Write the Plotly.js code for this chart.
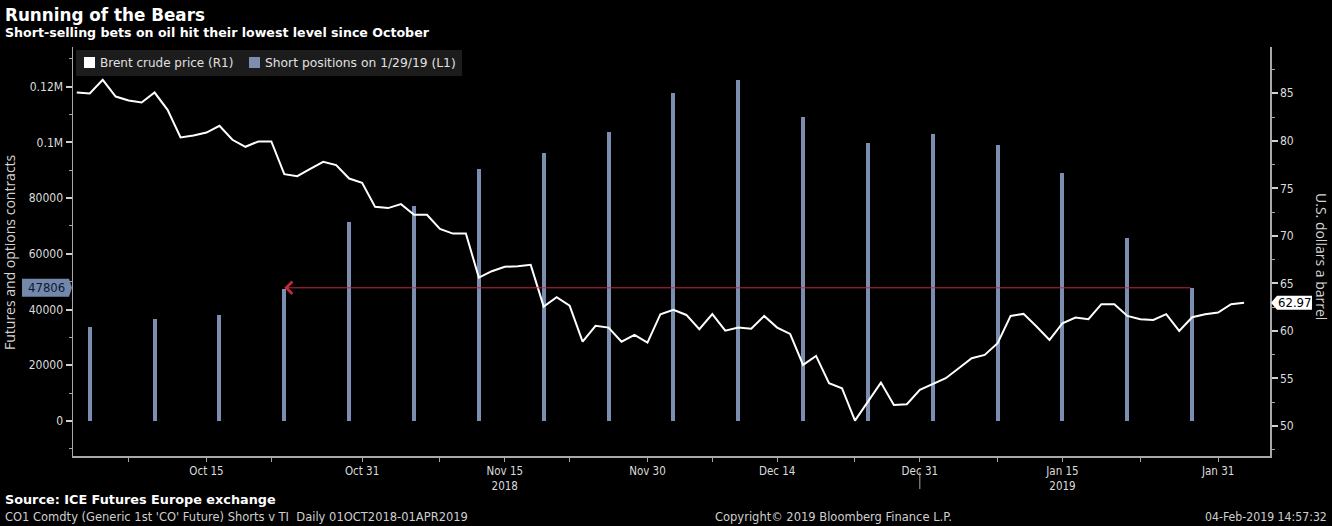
<!DOCTYPE html>
<html>
<head>
<meta charset="utf-8">
<script src="https://cdn.plot.ly/plotly-3.0.1.min.js"></script>
<style>
html,body{margin:0;padding:0;background:#000;}
#chart{width:1332px;height:526px;}
</style>
</head>
<body>
<div id="chart"></div>
<script>
// ---------- DATA ----------
const priceDates = [
 '2018-10-01','2018-10-02','2018-10-03','2018-10-04','2018-10-05','2018-10-08','2018-10-09','2018-10-10','2018-10-11','2018-10-12',
 '2018-10-15','2018-10-16','2018-10-17','2018-10-18','2018-10-19','2018-10-22','2018-10-23','2018-10-24','2018-10-25','2018-10-26',
 '2018-10-29','2018-10-30','2018-10-31',
 '2018-11-01','2018-11-02','2018-11-05','2018-11-06','2018-11-07','2018-11-08','2018-11-09','2018-11-12','2018-11-13','2018-11-14',
 '2018-11-15','2018-11-16','2018-11-19','2018-11-20','2018-11-21','2018-11-22','2018-11-23','2018-11-26','2018-11-27','2018-11-28',
 '2018-11-29','2018-11-30',
 '2018-12-03','2018-12-04','2018-12-05','2018-12-06','2018-12-07','2018-12-10','2018-12-11','2018-12-12','2018-12-13','2018-12-14',
 '2018-12-17','2018-12-18','2018-12-19','2018-12-20','2018-12-21','2018-12-24','2018-12-26','2018-12-27','2018-12-28','2018-12-31',
 '2019-01-02','2019-01-03','2019-01-04','2019-01-07','2019-01-08','2019-01-09','2019-01-10','2019-01-11','2019-01-14','2019-01-15',
 '2019-01-16','2019-01-17','2019-01-18','2019-01-21','2019-01-22','2019-01-23','2019-01-24','2019-01-25','2019-01-28','2019-01-29',
 '2019-01-30','2019-01-31',
 '2019-02-01','2019-02-04'
];
const brentPrice = [
 85.08,84.98,86.42,84.66,84.24,84.03,85.08,83.26,80.35,80.56,
 80.87,81.58,80.11,79.37,79.93,79.93,76.49,76.28,77.05,77.79,
 77.44,76.03,75.58,
 73.05,72.92,73.34,72.21,72.21,70.74,70.24,70.24,65.61,66.28,
 66.74,66.81,66.95,62.56,63.55,62.67,58.87,60.53,60.35,58.87,
 59.58,58.77,
 61.76,62.21,61.68,60.18,61.76,60.03,60.35,60.24,61.58,60.35,
 59.68,56.42,57.37,54.49,53.97,50.56,54.56,52.21,52.28,53.79,
 55.02,56.07,57.12,57.47,58.71,61.58,61.79,60.46,59.05,60.81,
 61.40,61.23,62.81,62.81,61.58,61.23,61.16,61.76,60.00,61.44,
 61.76,61.93,
 62.81,62.97
];
const shortDates = [
 '2018-10-02','2018-10-09','2018-10-16','2018-10-23','2018-10-30',
 '2018-11-06','2018-11-13','2018-11-20','2018-11-27',
 '2018-12-04','2018-12-11','2018-12-18','2018-12-25',
 '2019-01-01','2019-01-08','2019-01-15','2019-01-22','2019-01-29'
];
const shortPositions = [
 33850,36610,37940,47400,71540,
 77280,90450,96200,103730,
 117730,122290,109010,99780,
 102910,99070,89020,65580,47806
];
const xTickVals = ['2018-10-05','2018-10-15','2018-10-22','2018-10-31','2018-11-08','2018-11-15','2018-11-22','2018-11-30',
                   '2018-12-07','2018-12-14','2018-12-24','2018-12-31','2019-01-08','2019-01-15','2019-01-23','2019-01-31'];
const xTickText = ['','Oct 15','','Oct 31','','Nov 15<br>2018','','Nov 30',
                   '','Dec 14','','Dec 31','','Jan 15<br>2019','','Jan 31'];
const yearBoundary = ['2018-12-31'];
const leftTickVals = [0,20000,40000,60000,80000,100000,120000];
const leftTickText = ['0','20000','40000','60000','80000','0.1M','0.12M'];
const rightTickVals = [50,55,60,65,70,75,80,85];
const rightTickText = ['50','55','60','65','70','75','80','85'];

// ---------- LAYOUT HELPERS ----------
const W = 1332, H = 526, ML = 73, MR = 62, MT = 47, MB = 70;
const PW = W - ML - MR, PH = H - MT - MB;
const px = x => (x - ML) / PW;
const py = y => (H - MB - y) / PH;

const COND = '"DejaVu Sans Condensed", "DejaVu Sans", sans-serif';
const SANS = '"DejaVu Sans", Verdana, sans-serif';
const BOLD = '"DejaVu Sans", Verdana, sans-serif';
const BAR_COLOR = '#7b8eb0';

const lastShort = shortPositions[shortPositions.length - 1];
const lastShortDate = shortDates[shortDates.length - 1];
let prevIdx = 0;
for (let i = shortPositions.length - 2; i >= 0; i--) { if (shortPositions[i] <= lastShort) { prevIdx = i; break; } }
const lastPrice = brentPrice[brentPrice.length - 1];

const traces = [
  {
    type: 'bar', x: shortDates, y: shortPositions, yaxis: 'y', name: 'Short positions on 1/29/19 (L1)',
    width: 0.31 * 86400000, marker: {color: BAR_COLOR, line: {width: 0}}, hoverinfo: 'skip'
  },
  {
    type: 'scatter', mode: 'lines', x: priceDates, y: brentPrice, yaxis: 'y2', name: 'Brent crude price (R1)',
    line: {color: '#ffffff', width: 2}, hoverinfo: 'skip'
  }
];

const axisGrey = '#a8a8a8';
const layout = {
  width: W, height: H,
  margin: {l: ML, r: MR, t: MT, b: MB, pad: 0},
  paper_bgcolor: '#000', plot_bgcolor: '#000',
  showlegend: false, hovermode: false, bargap: 0,
  xaxis: {
    type: 'date', range: ['2018-09-28 17:00', '2019-02-06 00:00'],
    rangebreaks: [{bounds: ['sat', 'mon']}],
    tickmode: 'array', tickvals: xTickVals, ticktext: xTickText,
    ticks: 'outside', ticklen: 4, tickwidth: 1, tickcolor: axisGrey,
    showline: true, linecolor: axisGrey, linewidth: 1.5,
    showgrid: false, zeroline: false,
    tickfont: {family: COND, size: 11.5, color: '#dcdcdc'}
  },
  yaxis: {
    range: [-12563, 134240], tickmode: 'array', tickvals: leftTickVals, ticktext: leftTickText,
    ticks: 'outside', ticklen: 6, tickwidth: 2, tickcolor: '#d0d0d0',
    minor: {tickmode: 'linear', tick0: 0, dtick: 10000, ticks: 'outside', ticklen: 3, tickwidth: 1, tickcolor: axisGrey},
    showline: true, linecolor: axisGrey, linewidth: 1.5,
    showgrid: false, zeroline: false,
    tickfont: {family: COND, size: 12, color: '#dcdcdc'}
  },
  yaxis2: {
    overlaying: 'y', side: 'right', range: [46.84, 89.87],
    tickmode: 'array', tickvals: rightTickVals, ticktext: rightTickText,
    ticks: 'outside', ticklen: 6, tickwidth: 2, tickcolor: '#d0d0d0',
    minor: {tickmode: 'linear', tick0: 50, dtick: 2.5, ticks: 'outside', ticklen: 3, tickwidth: 1, tickcolor: axisGrey},
    showline: true, linecolor: axisGrey, linewidth: 1.5,
    showgrid: false, zeroline: false,
    tickfont: {family: COND, size: 12, color: '#dcdcdc'}
  },
  shapes: [
    // legend background
    {type: 'rect', xref: 'paper', yref: 'paper', x0: px(76), x1: px(462), y0: py(50), y1: py(76),
     fillcolor: '#1c1c1c', line: {width: 0}, layer: 'below'},
    {type: 'rect', xref: 'paper', yref: 'paper', x0: px(84), x1: px(95), y0: py(57), y1: py(68),
     fillcolor: '#ffffff', line: {width: 0}},
    {type: 'rect', xref: 'paper', yref: 'paper', x0: px(249), x1: px(260), y0: py(57), y1: py(68),
     fillcolor: BAR_COLOR, line: {width: 0}},
    // year boundary mark
    {type: 'line', xref: 'x', yref: 'paper', x0: yearBoundary[0], x1: yearBoundary[0], y0: py(472), y1: py(489),
     line: {color: axisGrey, width: 1}},
    // left value tag
    {type: 'path', xref: 'paper', yref: 'y', xsizemode: 'pixel', ysizemode: 'pixel', xanchor: 0, yanchor: lastShort,
     path: 'M -1,0 L -4,9 L -51,9 L -51,-9 L -4,-9 Z', fillcolor: '#7388ab', line: {width: 0}},
    // right value tag
    {type: 'path', xref: 'paper', yref: 'y2', xsizemode: 'pixel', ysizemode: 'pixel', xanchor: 1, yanchor: lastPrice,
     path: 'M 1,0 L 7,7 L 42,7 L 42,-7 L 7,-7 Z', fillcolor: '#ffffff', line: {width: 0}}
  ],
  annotations: [
    {xref: 'paper', yref: 'paper', x: px(3), y: py(15), xanchor: 'left', yanchor: 'middle', showarrow: false,
     text: 'Running of the Bears', font: {family: BOLD, size: 16.8, color: '#ffffff', weight: 'bold'}},
    {xref: 'paper', yref: 'paper', x: px(3), y: py(33), xanchor: 'left', yanchor: 'middle', showarrow: false,
     text: 'Short-selling bets on oil hit their lowest level since October', font: {family: BOLD, size: 12.6, color: '#ffffff', weight: 'bold'}},
    {xref: 'paper', yref: 'paper', x: px(98), y: py(63), xanchor: 'left', yanchor: 'middle', showarrow: false,
     text: traces[1].name, font: {family: SANS, size: 12, color: '#e0e0e0'}},
    {xref: 'paper', yref: 'paper', x: px(263), y: py(63), xanchor: 'left', yanchor: 'middle', showarrow: false,
     text: traces[0].name, font: {family: SANS, size: 12.3, color: '#e0e0e0'}},
    {xref: 'paper', yref: 'paper', x: px(10), y: py(252), xanchor: 'center', yanchor: 'middle', showarrow: false, textangle: -90,
     text: 'Futures and options contracts', font: {family: '"Open Sans", sans-serif', size: 14, color: '#d4d4d4'}},
    {xref: 'paper', yref: 'paper', x: px(1322), y: py(256), xanchor: 'center', yanchor: 'middle', showarrow: false, textangle: 90,
     text: 'U.S. dollars a barrel', font: {family: '"Open Sans", sans-serif', size: 14, color: '#d4d4d4'}},
    // arrow from latest bar back to the previous comparable level
    {xref: 'x', yref: 'y', x: shortDates[prevIdx], y: lastShort, axref: 'x', ayref: 'y', ax: lastShortDate, ay: lastShort,
     showarrow: true, arrowhead: 4, arrowsize: 2.4, arrowwidth: 1, arrowcolor: '#c22a3e', text: ''},
    // value tags text
    {xref: 'paper', yref: 'y', x: 0, y: lastShort, xanchor: 'center', yanchor: 'middle', xshift: -27, showarrow: false,
     text: String(lastShort), font: {family: COND, size: 13, color: '#0d1a36'}},
    {xref: 'paper', yref: 'y2', x: 1, y: lastPrice, xanchor: 'center', yanchor: 'middle', xshift: 24, showarrow: false,
     text: lastPrice.toFixed(2), font: {family: COND, size: 13, color: '#000000'}},
    // footer
    {xref: 'paper', yref: 'paper', x: px(3), y: py(499), xanchor: 'left', yanchor: 'middle', showarrow: false,
     text: 'Source: ICE Futures Europe exchange', font: {family: BOLD, size: 12.8, color: '#ffffff', weight: 'bold'}},
    {xref: 'paper', yref: 'paper', x: px(3), y: py(517), xanchor: 'left', yanchor: 'middle', showarrow: false,
     text: "CO1 Comdty (Generic 1st 'CO' Future) Shorts v TI  Daily 01OCT2018-01APR2019", font: {family: SANS, size: 11.5, color: '#cfcfcf'}},
    {xref: 'paper', yref: 'paper', x: px(833), y: py(517), xanchor: 'center', yanchor: 'middle', showarrow: false,
     text: 'Copyright\u00a9 2019 Bloomberg Finance L.P.', font: {family: SANS, size: 11.5, color: '#cfcfcf'}},
    {xref: 'paper', yref: 'paper', x: px(1329), y: py(517), xanchor: 'right', yanchor: 'middle', showarrow: false,
     text: '04-Feb-2019 14:57:32', font: {family: COND, size: 12.2, color: '#cfcfcf'}}
  ]
};

Plotly.newPlot('chart', traces, layout, {displayModeBar: false, staticPlot: true});
</script>
</body>
</html>
